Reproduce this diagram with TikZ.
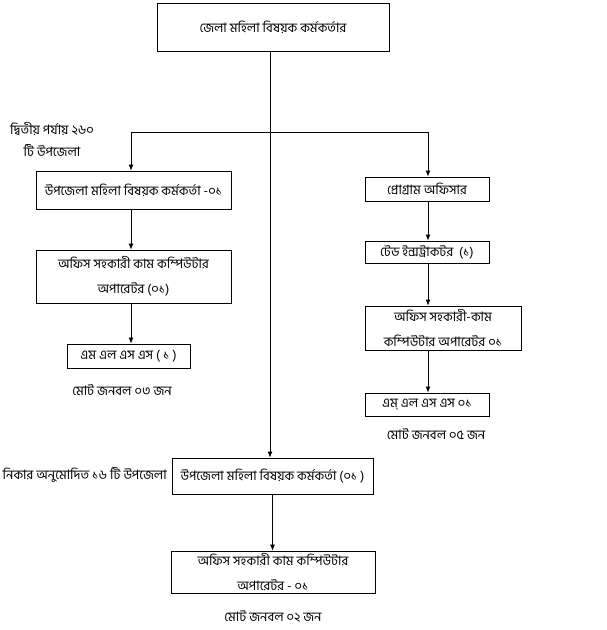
\documentclass[tikz,border=0pt]{standalone}
\usepackage{fontspec}
\setmainfont[Script=Bengali]{Hind Siliguri}
\usetikzlibrary{arrows.meta}
\begin{document}
\begin{tikzpicture}[x=1pt,y=-1pt,
  box/.style={draw,line width=0.8pt,inner sep=0pt,align=center,font=\fontsize{13}{25}\selectfont},
  lbl/.style={inner sep=0pt,align=center,font=\fontsize{13}{22}\selectfont},
  arr/.style={line width=0.8pt,-{Latex[length=6pt,width=5pt]}},
  ln/.style={line width=0.8pt}]
\useasboundingbox (0,0) rectangle (607,630);
\node[box,minimum width=232pt,minimum height=48pt] (top) at (273,27) {জেলা মহিলা বিষয়ক কর্মকর্তার};
\coordinate (j) at (270,132);
\coordinate (jl) at (131,132);
\coordinate (jr) at (428,132);
\node[lbl] (lab1) at (52,139) {দ্বিতীয় পর্যায় ২৬০\\টি উপজেলা};
\node[box,minimum width=195pt,minimum height=38pt] (L1) at (133.5,190) {উপজেলা মহিলা বিষয়ক কর্মকর্তা -০১};
\node[box,minimum width=195pt,minimum height=53pt] (L2) at (133.5,276.5) {অফিস সহকারী কাম কম্পিউটার\\অপারেটর (০১)};
\node[box,minimum width=123pt,minimum height=24pt] (L3) at (128.5,356) {এম এল এস এস ( ১ )};
\node[lbl] (t1) at (122,390) {মোট জনবল ০৩ জন};
\node[box,minimum width=124pt,minimum height=24pt] (R1) at (427,189) {প্রোগ্রাম অফিসার};
\node[box,minimum width=124pt,minimum height=22pt] (R2) at (427,252) {টেড ইন্সট্রাকটর ~(১)};
\node[box,minimum width=156pt,minimum height=44pt] (R3) at (443,328) {অফিস সহকারী-কাম\\কম্পিউটার অপারেটর ০১};
\node[box,minimum width=124pt,minimum height=23pt] (R4) at (427,404.5) {এম্ এল এস এস ০১};
\node[lbl] (t2) at (436,434) {মোট জনবল ০৫ জন};
\node[box,minimum width=201pt,minimum height=36pt] (B1) at (272.5,476) {উপজেলা মহিলা বিষয়ক কর্মকর্তা (০১ )};
\node[lbl,anchor=east] (lab2) at (167,475) {নিকার অনুমোদিত ১৬ টি উপজেলা};
\node[box,minimum width=204pt,minimum height=42pt] (B2) at (273,572) {অফিস সহকারী কাম কম্পিউটার\\অপারেটর - ০১};
\node[lbl] (t3) at (273,617) {মোট জনবল ০২ জন};
\draw[arr] (top.south -| j) -- (B1.north -| j);
\draw[arr] (j) -- (jl) -- (L1.north -| jl);
\draw[arr] (j) -- (jr) -- (R1.north -| jr);
\draw[arr] (L1.south -| jl) -- (L2.north -| jl);
\draw[arr] (L2.south -| jl) -- (L3.north -| jl);
\draw[arr] (R1.south -| jr) -- (R2.north -| jr);
\draw[arr] (R2.south -| jr) -- (R3.north -| jr);
\draw[arr] (R3.south -| jr) -- (R4.north -| jr);
\draw[arr] (B1.south) -- (B2.north -| B1);
\end{tikzpicture}
\end{document}
